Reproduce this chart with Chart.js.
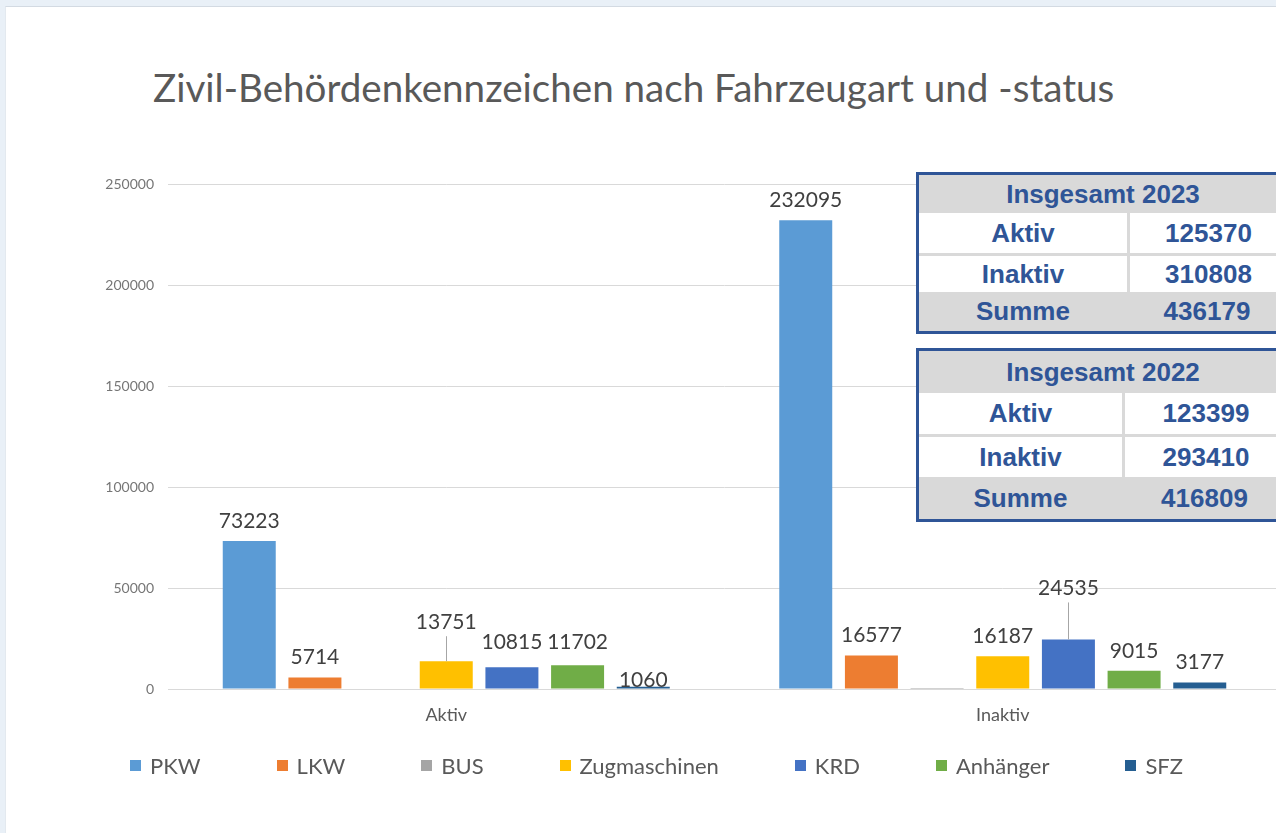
<!DOCTYPE html>
<html><head><meta charset="utf-8">
<script src="https://cdn.jsdelivr.net/npm/chart.js@4.4.0/dist/chart.umd.min.js"></script>
<style>
html,body{margin:0;padding:0;width:1276px;height:833px;overflow:hidden;background:#e9f0f7;}
#panel{position:absolute;left:5px;top:6px;width:1300px;height:840px;background:#fff;border-top:1px solid #d3dae2;border-left:1px solid #e3e9ef;}
#title{position:absolute;left:153px;top:64px;font:38.6px Lato;color:#595959;white-space:nowrap;line-height:46px;}
#wrap{position:absolute;left:0;top:0;width:1300px;height:833px;}
.tbl{position:absolute;left:916px;width:374px;border:3px solid #2f5597;box-sizing:border-box;font:bold 26px "Liberation Sans",Arial,sans-serif;color:#2f5597;overflow:hidden;}
.tbl .row{display:grid;align-items:center;box-sizing:border-box;}
.tbl .row div{display:flex;align-items:center;justify-content:center;height:100%;box-sizing:border-box;}
.tbl .hdr{background:#d9d9d9;}
.tbl .sum{background:#d9d9d9;}
.tbl .mid{background:#fff;}
.tbl .mid .v{border-left:3px solid #d9d9d9;}
.tbl .sep{border-top:3px solid #d9d9d9;}
#legend{position:absolute;left:130px;top:752px;display:flex;align-items:center;font:22px Lato;color:#595959;white-space:nowrap;}
#legend .it{display:flex;align-items:center;margin-right:76px;}
#legend .bx{width:11px;height:11px;margin-right:9px;}
</style></head>
<body>
<div id="panel"></div>
<div id="title">Zivil-Behördenkennzeichen nach Fahrzeugart und -status</div>
<div id="wrap"><canvas id="c"></canvas></div>
<div id="legend"></div>
<div id="t1" class="tbl" style="top:172px;height:162px;"></div>
<div id="t2" class="tbl" style="top:348px;height:174px;"></div>
<script>
// ---- data ----
const categories = ['Aktiv', 'Inaktiv'];
const seriesNames = ['PKW', 'LKW', 'BUS', 'Zugmaschinen', 'KRD', 'Anhänger', 'SFZ'];
const PKW = [73223, 232095];
const LKW = [5714, 16577];
const BUS = [0, 450];
const Zugmaschinen = [13751, 16187];
const KRD = [10815, 24535];
const Anhaenger = [11702, 9015];
const SFZ = [1060, 3177];
const yTicks = [0, 50000, 100000, 150000, 200000, 250000];
const tableRowLabels = ['Aktiv', 'Inaktiv', 'Summe'];
const totals2023 = [125370, 310808, 436179];
const totals2022 = [123399, 293410, 416809];
const tableTitles = ['Insgesamt 2023', 'Insgesamt 2022'];

// ---- styles ----
const seriesColors = ['#5b9bd5', '#ed7d31', '#a5a5a5', '#ffc000', '#4472c4', '#70ad47', '#255e91'];
const seriesValues = [PKW, LKW, BUS, Zugmaschinen, KRD, Anhaenger, SFZ];

function buildTable(el, title, values, colW, rowH) {
  let html = `<div class="row hdr" style="height:${rowH[0]}px;grid-template-columns:1fr"><div>${title}</div></div>`;
  tableRowLabels.forEach((lab, i) => {
    const cls = i === 2 ? 'sum' : 'mid';
    const sep = i === 1 ? ' sep' : '';
    html += `<div class="row ${cls}${sep}" style="height:${rowH[i + 1]}px;grid-template-columns:${colW}px 1fr"><div>${lab}</div><div class="v">${values[i]}</div></div>`;
  });
  el.innerHTML = html;
}
buildTable(document.getElementById('t1'), tableTitles[0], totals2023, 208, [38, 40, 39, 39]);
buildTable(document.getElementById('t2'), tableTitles[1], totals2022, 203, [42, 41, 43, 42]);

const leg = document.getElementById('legend');
seriesNames.forEach((n, i) => {
  const it = document.createElement('div');
  it.className = 'it';
  it.innerHTML = `<span class="bx" style="background:${seriesColors[i]}"></span><span>${n}</span>`;
  leg.appendChild(it);
});

const valueLabels = {
  id: 'valueLabels',
  afterDatasetsDraw(chart, args, opts) {
    const ctx = chart.ctx;
    ctx.save();
    ctx.font = '21px Lato';
    ctx.fillStyle = '#404040';
    ctx.textAlign = 'center';
    ctx.textBaseline = 'middle';
    chart.data.datasets.forEach((ds, di) => {
      if (opts.skip.includes(ds.label)) return;
      const meta = chart.getDatasetMeta(di);
      meta.data.forEach((bar, i) => {
        const key = di + '-' + i;
        const lift = opts.lift[key] !== undefined ? opts.lift[key] : opts.defaultLift;
        const y = bar.y - lift;
        ctx.fillText(String(ds.data[i]), bar.x, y);
        if (opts.leaders.includes(key)) {
          ctx.strokeStyle = '#a6a6a6';
          ctx.lineWidth = 1;
          ctx.beginPath();
          ctx.moveTo(Math.round(bar.x) + 0.5, y + 14);
          ctx.lineTo(Math.round(bar.x) + 0.5, bar.y);
          ctx.stroke();
        }
      });
    });
    ctx.restore();
  }
};

function draw() {
  new Chart(document.getElementById('c'), {
    type: 'bar',
    data: {
      labels: categories,
      datasets: seriesNames.map((n, i) => ({
        label: n,
        data: seriesValues[i],
        backgroundColor: seriesColors[i],
        categoryPercentage: 0.826,
        barPercentage: 0.807
      }))
    },
    options: {
      responsive: true,
      maintainAspectRatio: false,
      animation: false,
      layout: { padding: { top: 184, right: 19, bottom: 104, left: 0 } },
      plugins: {
        legend: { display: false },
        tooltip: { enabled: false },
        valueLabels: {
          skip: ['BUS'],
          defaultLift: 20,
          lift: { '3-0': 39, '4-1': 51, '4-0': 25, '5-0': 23, '6-0': 7 },
          leaders: ['3-0', '4-1']
        }
      },
      scales: {
        x: {
          grid: { display: false, drawTicks: false },
          border: { display: true, color: '#d9d9d9' },
          ticks: { font: { family: 'Lato', size: 18 }, color: '#595959', padding: 15 },
          afterFit(s) { s.height = 40; }
        },
        y: {
          min: 0, max: 250000,
          afterBuildTicks(s) { s.ticks = yTicks.map(v => ({ value: v })); },
          grid: { color: '#d9d9d9', lineWidth: 1, drawTicks: false },
          border: { display: false },
          ticks: { font: { family: 'Lato', size: 14 }, color: '#767676', padding: 14, callback: v => String(v) },
          afterFit(s) { s.width = 168; }
        }
      }
    },
    plugins: [valueLabels]
  });
}
if (document.fonts && document.fonts.load) {
  Promise.all([document.fonts.load('21px Lato'), document.fonts.load('bold 26px "Liberation Sans"')]).then(draw, draw);
} else draw();
</script>
</body></html>
